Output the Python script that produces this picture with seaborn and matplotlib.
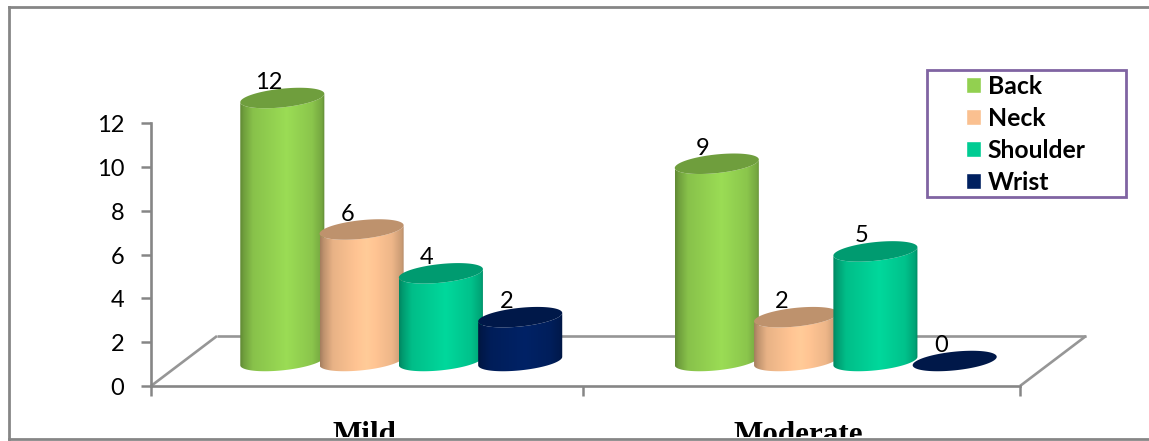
import numpy as np
import pandas as pd
import matplotlib
matplotlib.use("Agg")
import matplotlib.pyplot as plt
import seaborn as sns
from matplotlib.lines import Line2D
from matplotlib.patches import Polygon, Rectangle
from matplotlib.transforms import Bbox, ScaledTranslation

severity = ["Mild", "Moderate"]
regions = ["Back", "Neck", "Shoulder", "Wrist"]
back = [12, 9]
neck = [6, 2]
shoulder = [4, 5]
wrist = [2, 0]
tick_values = [0, 2, 4, 6, 8, 10, 12]
region_colors = ["#92D050", "#FAC090", "#00CC93", "#002060"]

W, H = 1149, 441
GRAY = "#868686"
LEFT, RIGHT, TOP, BASE = 151, 1020, 123, 386   # plot wall and floor front edge, px
FLOOR_DX, FLOOR_DY = 66, 50                    # depth of the floor, px


def fx(px):
    return px / W


def fy(py):
    return 1 - py / H


sns.set_style("white")
plt.rcParams["font.family"] = ["Lato", "DejaVu Sans"]
plt.rcParams["text.color"] = "black"

rows = []
for region, vals in zip(regions, [back, neck, shoulder, wrist]):
    for level, v in zip(severity, vals):
        rows.append({"severity": level, "region": region, "count": v})
df = pd.DataFrame(rows)

fig = plt.figure(figsize=(W / 100, H / 100), dpi=100, facecolor="white")
rect = [fx(LEFT), fy(BASE), (RIGHT - LEFT) / W, (BASE - TOP) / H]
ax = fig.add_axes(rect, facecolor="none", zorder=1)

# Cylinders stand halfway back on the floor, so they get an axes shifted by half the depth.
# One extra unit below and above leaves room for the rounded base and top.
unit_h = (BASE - TOP) / 12 / H
bars_ax = fig.add_axes(
    [rect[0] + FLOOR_DX / 2 / W, rect[1] + FLOOR_DY / 2 / H - unit_h, rect[2], rect[3] + 2 * unit_h],
    facecolor="none", zorder=2)

sns.barplot(data=df, x="severity", y="count", hue="region", order=severity,
            hue_order=regions, palette=region_colors, width=0.73, gap=-0.06,
            saturation=1, ax=bars_ax, legend=True)
legend_handles, legend_labels = bars_ax.get_legend_handles_labels()
bars_ax.get_legend().remove()

xlim, ylim = (-0.5, 1.5), (0, 12)
bars_limits = (ylim[0] - 1, ylim[1] + 1)
bars_ax.set_xlim(xlim)
bars_ax.set_ylim(bars_limits)
bars_ax.axis("off")

# Wall and floor
ax.set_xlim(xlim)
ax.set_ylim(ylim)
ax.set_yticks(tick_values)
ax.set_xticks([-0.5, 0.495, 1.5])
ax.set_xticklabels([])
ax.tick_params(axis="both", which="major", left=True, bottom=True, length=7.2, width=1.8,
               color=GRAY, labelsize=17, pad=12, labelcolor="black")
nudge = ScaledTranslation(0, -2.5 / 100, fig.dpi_scale_trans)
for label in ax.get_yticklabels():
    label.set_va("center")
    label.set_transform(label.get_transform() + nudge)
for name, spine in ax.spines.items():
    spine.set_visible(name in ("left", "bottom"))
    spine.set_color(GRAY)
    spine.set_linewidth(1.9)
sx = FLOOR_DX / (RIGHT - LEFT)
sy = FLOOR_DY / (BASE - TOP)
for xs, ys in [([0, sx], [0, sy]), ([sx, 1 + sx], [sy, sy]), ([1, 1 + sx], [0, sy])]:
    ax.plot(xs, ys, transform=ax.transAxes, color="#969696", lw=1.9, clip_on=False,
            solid_capstyle="butt", zorder=1)

# Cylinder geometry, expressed through the bars seaborn laid out
unit_x = (xlim[1] - xlim[0]) / (RIGHT - LEFT)
unit_y = (ylim[1] - ylim[0]) / (BASE - TOP)
TILT = np.radians(6.0)
MINOR_PX = 9.3
SHADE_POS = [0, 0.04, 0.15, 0.55, 0.85, 0.97, 1]
SHADE_VAL = [0.66, 0.76, 0.93, 1.06, 0.95, 0.80, 0.66]


def rim(cx, cy, half_w_px):
    major = np.sqrt(half_w_px ** 2 - (MINOR_PX * np.sin(TILT)) ** 2) / np.cos(TILT)
    t = np.linspace(0, 2 * np.pi, 241)[:-1]
    px = major * np.cos(t) * np.cos(TILT) - MINOR_PX * np.sin(t) * np.sin(TILT)
    py = major * np.cos(t) * np.sin(TILT) + MINOR_PX * np.sin(t) * np.cos(TILT)
    return cx + px * unit_x, cy + py * unit_y


all_bars = []
for color, container in zip(region_colors, bars_ax.containers):
    for patch in container:
        all_bars.append((patch, color))
all_bars.sort(key=lambda item: item[0].get_x())

for order, (patch, color) in enumerate(all_bars):
    patch.set_visible(False)
    x0, w, h = patch.get_x(), patch.get_width(), patch.get_height()
    cx = x0 + w / 2
    half_w_px = w / 2 / unit_x
    rgb = np.array(matplotlib.colors.to_rgb(color))
    z = 3 + order

    # Side wall with horizontal shading, clipped to the cylinder outline
    xb, yb = rim(cx, 0, half_w_px)
    i_left, i_right = np.argmin(xb), np.argmax(xb)
    xs = np.roll(xb, -i_left)
    ys = np.roll(yb, -i_left)
    n = (i_right - i_left) % len(xb)
    # going on from the left tangent, the rim runs along its lower side to the right tangent
    low_x = xs[:n + 1]
    low_y = ys[:n + 1]
    outline = np.c_[np.r_[low_x, low_x[::-1]], np.r_[low_y, low_y[::-1] + h]]
    if h > 0:
        body = Polygon(outline, closed=True, transform=bars_ax.transData,
                       facecolor="none", edgecolor="none")
        bars_ax.add_patch(body)
        shade = np.interp(np.linspace(0, 1, 128), SHADE_POS, SHADE_VAL)
        grad = np.clip(rgb[None, None, :] * shade[None, :, None], 0, 1)
        im = bars_ax.imshow(grad, extent=(x0, x0 + w, -14 * unit_y, h + 14 * unit_y),
                            aspect="auto", interpolation="bilinear", zorder=z)
        im.set_clip_path(body)

    # Top face
    xt, yt = rim(cx, h, half_w_px)
    bars_ax.fill(xt, yt, color=rgb * 0.76, lw=0, zorder=z + 0.5, clip_on=False)

    # Value label sits up and left of the cylinder's top, partly hidden behind the rim
    bars_ax.text(cx - 14 * unit_x, h + 15.5 * unit_y, f"{h:.0f}", ha="center", va="center",
                 fontsize=17, color="black", zorder=2, clip_on=False)

bars_ax.set_xlim(xlim)
bars_ax.set_ylim(bars_limits)

# Category names, cut off by the chart border
clip = Bbox([[0, (H - 437)], [W, H]])
for label, px in zip(severity, [364, 798]):
    fig.text(fx(px), fy(443), label, ha="center", va="baseline", family="Liberation Serif",
             fontweight="bold", fontsize=22.4, color="black", clip_box=clip, clip_on=True)

# Chart border: left, top and bottom sides only, running off the right edge
for xs, ys in [([9, 9], [7, 439]), ([9, W], [7, 7]), ([9, W], [439, 439])]:
    fig.add_artist(Line2D([fx(v) for v in xs], [fy(v) for v in ys], color=GRAY, lw=2,
                          solid_capstyle="projecting", zorder=0))

# Legend with its purple frame
fig.add_artist(Rectangle((fx(927), fy(197)), (1126 - 927) / W, (197 - 70) / H, transform=fig.transFigure,
                         facecolor="white", edgecolor="#8064A2", lw=2, zorder=5))
leg = fig.legend(legend_handles, legend_labels, loc="upper left",
                 bbox_to_anchor=(fx(966), fy(75)), borderaxespad=0, borderpad=0, frameon=False,
                 prop={"family": "Lato", "weight": "bold", "size": 17.8},
                 handlelength=0.61, handleheight=0.61, handletextpad=0.26, labelspacing=0.36)
leg.set_zorder(6)

fig.savefig("out.png", dpi=100, facecolor="white")
